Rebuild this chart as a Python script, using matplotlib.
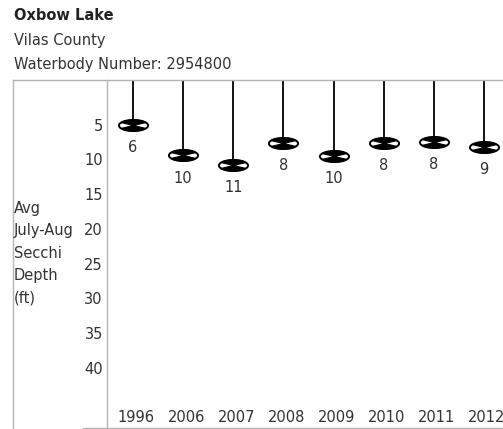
import numpy as np
import matplotlib
matplotlib.use("Agg")
import matplotlib.pyplot as plt
from matplotlib.path import Path
from matplotlib.lines import Line2D
from matplotlib.transforms import blended_transform_factory

W, H = 503, 429

years = ["1996", "2006", "2007", "2008", "2009", "2010", "2011", "2012"]
depths = [5.0, 9.4, 10.8, 7.6, 9.5, 7.6, 7.5, 8.2]
depth_labels = ["6", "10", "11", "8", "10", "8", "8", "9"]
yticks = [5, 10, 15, 20, 25, 30, 35, 40]

plt.rcParams["font.family"] = ["DejaVu Sans"]
TXT = "#333333"
GRID = "#b4b4b4"
FS = 10.5


def px(x0, y0):
    return x0 / W, 1 - y0 / H


def secchi_markers():
    # ellipse outline (white) and the black hourglass quarters
    a, b = 1.0, 0.38
    t = np.linspace(0, 2 * np.pi, 80)
    outline = Path(np.column_stack([a * np.cos(t), b * np.sin(t)]), closed=True)
    verts = []
    codes = []
    for t0, t1 in [(32, 148), (212, 328)]:
        tt = np.radians(np.linspace(t0, t1, 24))
        pts = [(0, 0)] + list(zip(a * np.cos(tt), b * np.sin(tt))) + [(0, 0)]
        verts += pts
        codes += [Path.MOVETO] + [Path.LINETO] * (len(pts) - 2) + [Path.CLOSEPOLY]
    # pad with invisible extremes so scaling matches the outline
    verts += [(-1, 0), (1, 0)]
    codes += [Path.MOVETO, Path.MOVETO]
    return outline, Path(verts, codes)


fig = plt.figure(figsize=(W / 100, H / 100), dpi=100)
ax = fig.add_axes([107 / W, 1 - 428 / H, (503 - 107) / W, (428 - 80) / H])

x = np.arange(len(years))
ax.set_xlim(-0.52, 7.38)
ax.set_ylim(48.7, -1.44)

ax.vlines(x, -1.44, depths, color="black", lw=1.3, zorder=2)

outline, hourglass = secchi_markers()
ax.plot(x, depths, ls="none", marker=outline, ms=21, mfc="white",
        mec="black", mew=1.4, zorder=3)
ax.plot(x, depths, ls="none", marker=hourglass, ms=21, mfc="black",
        mec="black", mew=0.8, zorder=4)

for xi, d, lab in zip(x, depths, depth_labels):
    ax.annotate(lab, (xi, d), xytext=(0, -16.5), textcoords="offset points",
                ha="center", va="center", fontsize=FS, color=TXT)

tr = blended_transform_factory(ax.transData, ax.transAxes)
for xi, yr in zip(x, years):
    ax.text(xi + 0.06, 11 / 348, yr, transform=tr, ha="center", va="center",
            fontsize=FS, color=TXT)

ax.set_yticks(yticks)
ax.set_yticklabels([str(v) for v in yticks], fontsize=FS, color=TXT)
ax.tick_params(axis="y", length=0, pad=3)
ax.set_xticks([])
for s in ["top", "right", "bottom"]:
    ax.spines[s].set_visible(False)
ax.spines["left"].set_color(GRID)
ax.spines["left"].set_linewidth(1.0)

# outer frame lines
fig.add_artist(Line2D([px(13, 0)[0], 1], [px(0, 80)[1]] * 2, color=GRID, lw=1.0))
fig.add_artist(Line2D([px(13, 0)[0]] * 2, [px(0, 80)[1], px(0, 429)[1]], color=GRID, lw=1.0))
fig.add_artist(Line2D([px(83, 0)[0], 1], [px(0, 428)[1]] * 2, color=GRID, lw=1.0))

ylab = ["Avg", "July-Aug", "Secchi", "Depth", "(ft)"]
for i, t in enumerate(ylab):
    fig.text(*px(14, 208 + 22.5 * i), t, ha="left", va="center",
             fontsize=FS, color=TXT)

fig.text(*px(14, 16), "Oxbow Lake", ha="left", va="center", fontsize=10.5,
         fontweight="bold", color="#222222")
fig.text(*px(14, 41), "Vilas County", ha="left", va="center", fontsize=FS,
         color=TXT)
fig.text(*px(14, 64), "Waterbody Number: 2954800", ha="left", va="center",
         fontsize=FS, color=TXT)

fig.savefig("out.png", dpi=100)
